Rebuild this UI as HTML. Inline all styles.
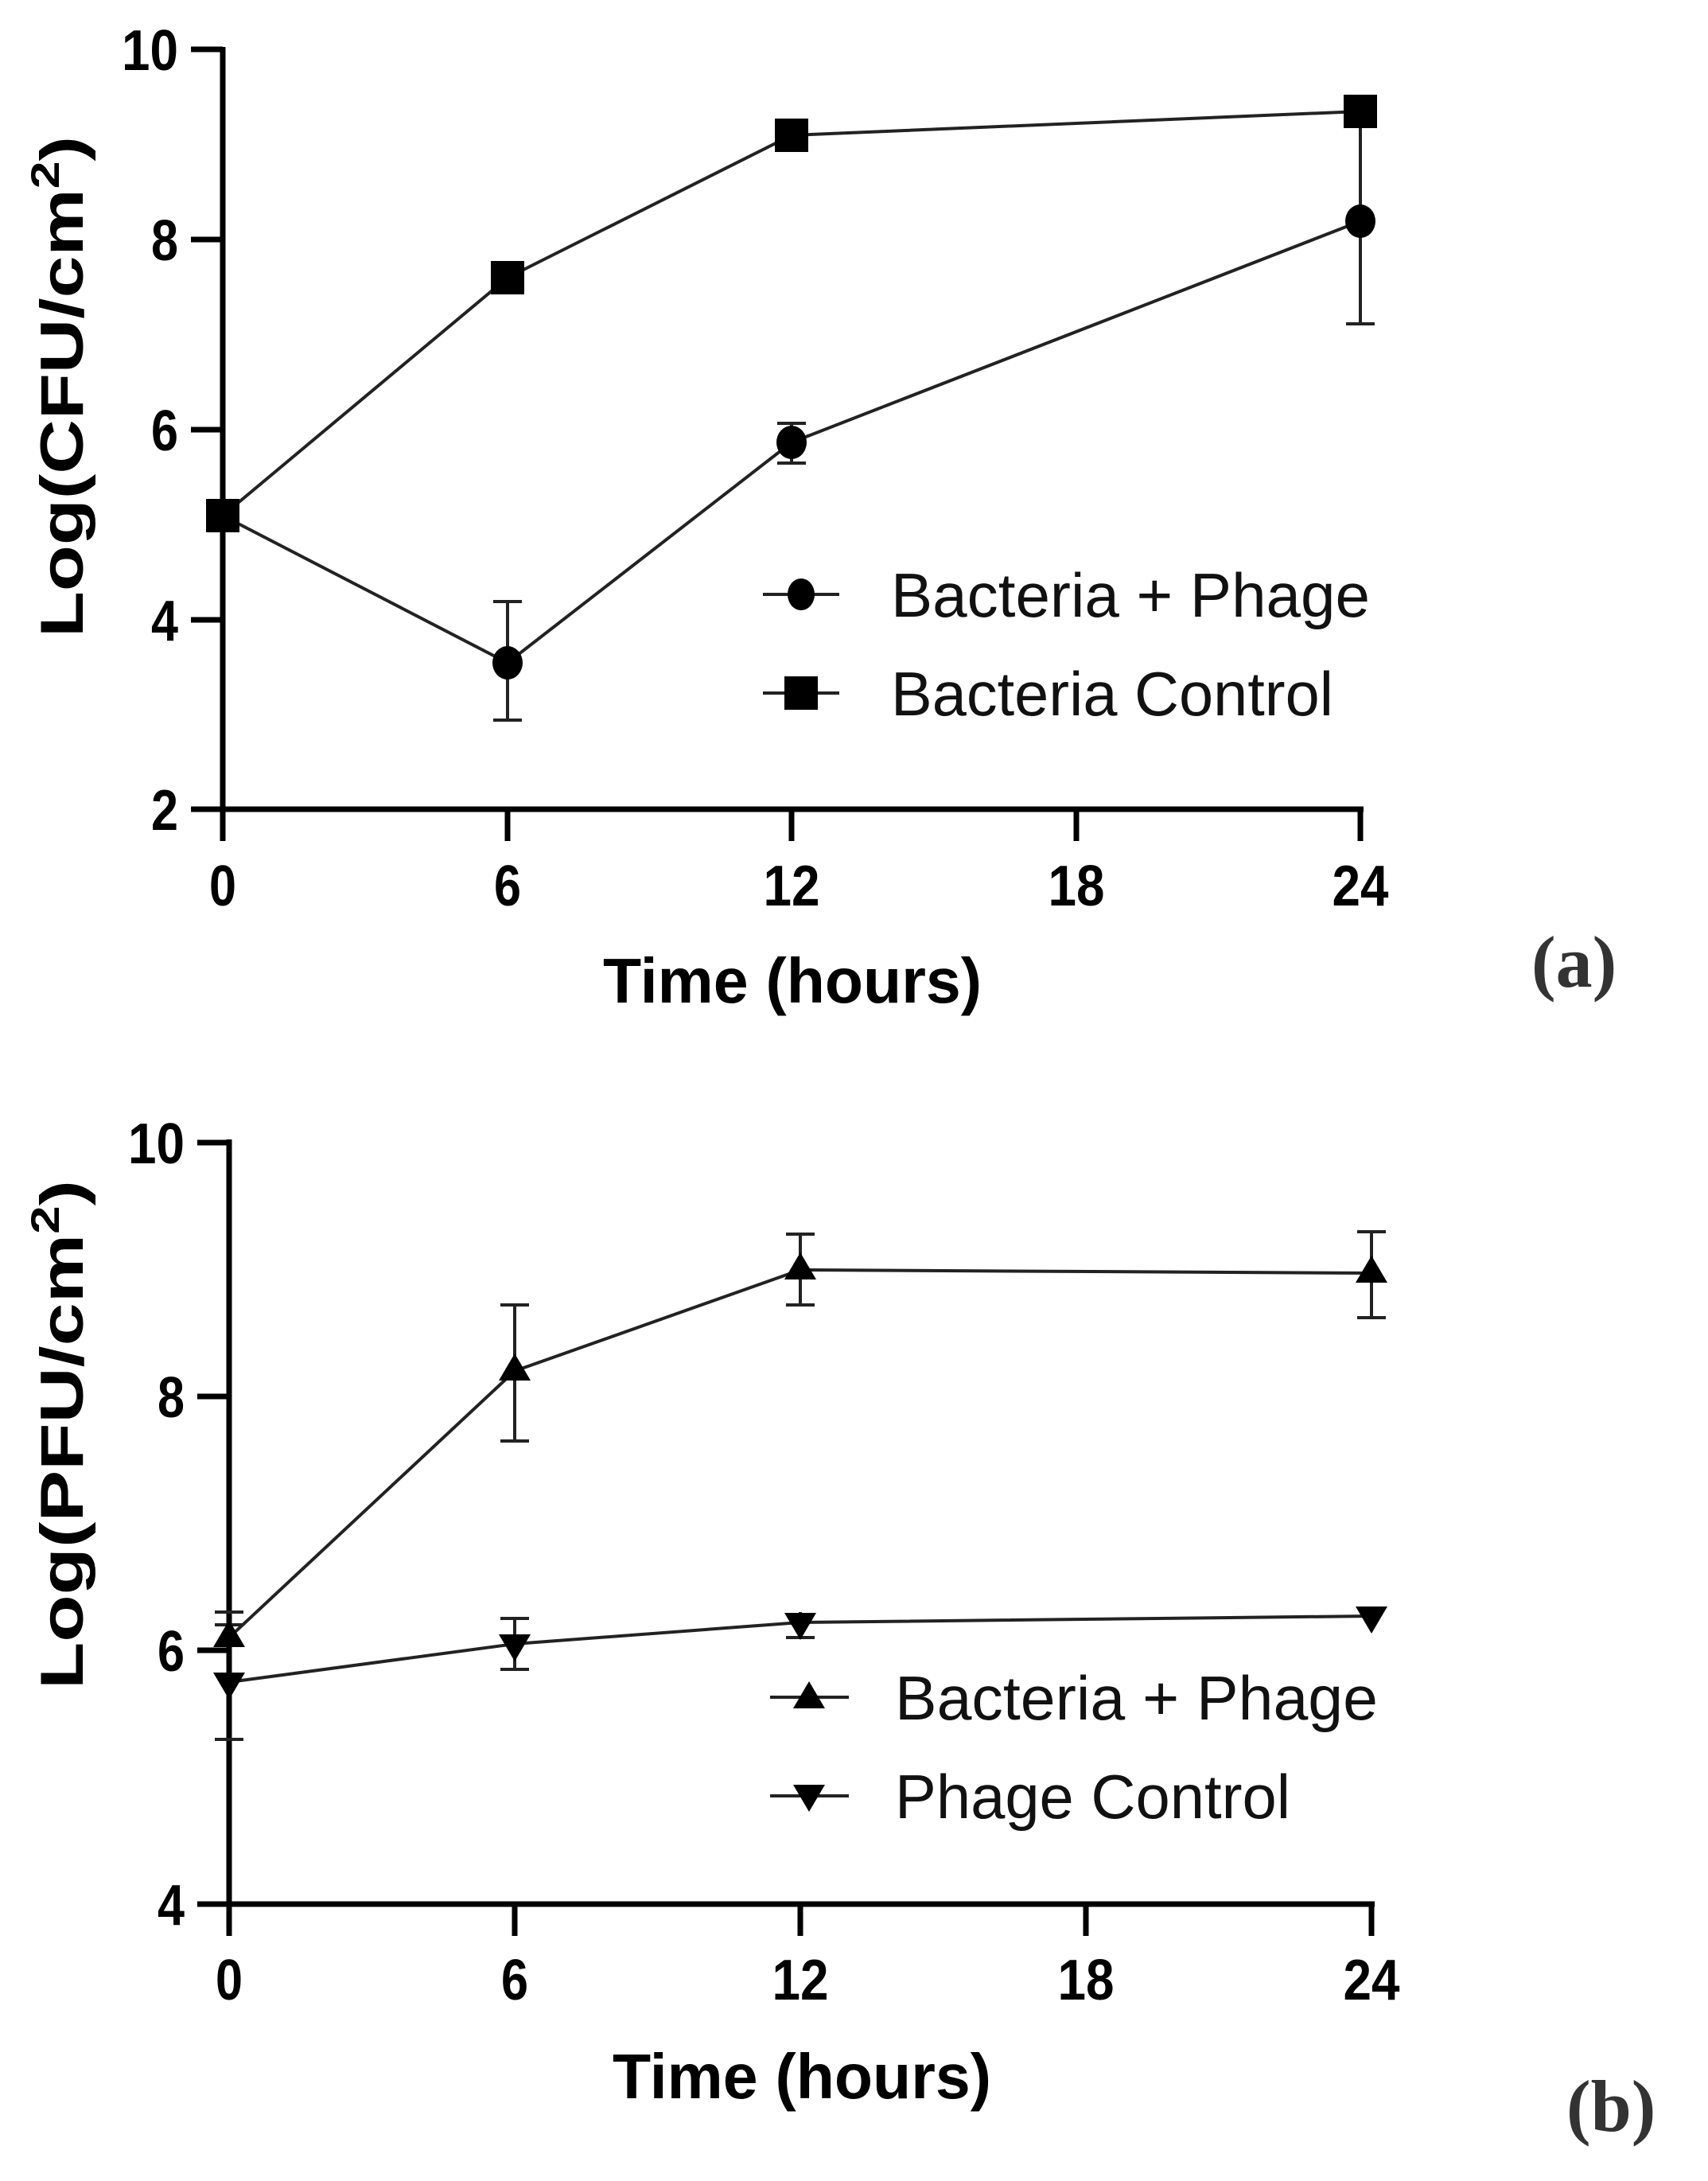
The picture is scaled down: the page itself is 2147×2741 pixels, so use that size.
<!DOCTYPE html>
<html><head><meta charset="utf-8"><style>
html,body{margin:0;padding:0;background:#fff}
svg{display:block}
.n{font-family:"Liberation Sans Narrow","Liberation Sans",sans-serif;font-size:72px;font-weight:bold;fill:#000}
.t{font-family:"Liberation Sans Narrow","Liberation Sans",sans-serif;font-size:80px;font-weight:bold;fill:#000}
.y{font-family:"Liberation Sans",sans-serif;font-size:76px;font-weight:bold;fill:#000}
.l{font-family:"Liberation Sans Narrow","Liberation Sans",sans-serif;font-size:78px;fill:#111}
.p{font-family:"Liberation Serif",serif;font-size:92px;font-weight:bold;fill:#333}
</style></head><body>
<svg width="2147" height="2741" viewBox="0 0 2147 2741" xmlns="http://www.w3.org/2000/svg">
<!-- Panel A -->
<g stroke="#000" stroke-width="7" fill="none">
<line x1="280" y1="59" x2="280" y2="1057"/>
<line x1="240" y1="1017" x2="1714" y2="1017"/>
<line x1="240" y1="62" x2="280" y2="62"/>
<line x1="240" y1="301" x2="280" y2="301"/>
<line x1="240" y1="540" x2="280" y2="540"/>
<line x1="240" y1="779" x2="280" y2="779"/>
<line x1="638" y1="1017" x2="638" y2="1057"/>
<line x1="995" y1="1017" x2="995" y2="1057"/>
<line x1="1353" y1="1017" x2="1353" y2="1057"/>
<line x1="1710" y1="1017" x2="1710" y2="1057"/>
</g>
<g class="n" text-anchor="end">
<text x="224" y="88" textLength="71" lengthAdjust="spacingAndGlyphs">10</text><text x="224" y="327" textLength="34" lengthAdjust="spacingAndGlyphs">8</text><text x="224" y="566" textLength="34" lengthAdjust="spacingAndGlyphs">6</text><text x="224" y="805" textLength="34" lengthAdjust="spacingAndGlyphs">4</text><text x="224" y="1043" textLength="34" lengthAdjust="spacingAndGlyphs">2</text>
</g>
<g class="n" text-anchor="middle">
<text x="280" y="1138" textLength="34" lengthAdjust="spacingAndGlyphs">0</text><text x="638" y="1138" textLength="34" lengthAdjust="spacingAndGlyphs">6</text><text x="995" y="1138" textLength="71" lengthAdjust="spacingAndGlyphs">12</text><text x="1353" y="1138" textLength="71" lengthAdjust="spacingAndGlyphs">18</text><text x="1710" y="1138" textLength="71" lengthAdjust="spacingAndGlyphs">24</text>
</g>
<text class="t" x="758" y="1260" textLength="476" lengthAdjust="spacingAndGlyphs">Time (hours)</text>
<text class="p" x="1925" y="1240">(a)</text>
<text class="y" transform="translate(104,486) rotate(-90)" text-anchor="middle" textLength="630" lengthAdjust="spacingAndGlyphs">Log(CFU/cm<tspan font-size="50" dy="-30">2</tspan><tspan dy="30">)</tspan></text>
<g stroke="#222" stroke-width="4" fill="none">
<polyline points="280,648 638,833 995,556 1710,278"/>
<polyline points="280,648 638,349 995,170 1710,140"/>
<line x1="638" y1="756" x2="638" y2="905"/><line x1="620" y1="756" x2="656" y2="756"/><line x1="620" y1="905" x2="656" y2="905"/>
<line x1="995" y1="532" x2="995" y2="582"/><line x1="977" y1="532" x2="1013" y2="532"/><line x1="977" y1="582" x2="1013" y2="582"/>
<line x1="1710" y1="140" x2="1710" y2="407"/><line x1="1692" y1="407" x2="1728" y2="407"/>
</g>
<g fill="#000">
<ellipse cx="638" cy="833" rx="19" ry="21"/><ellipse cx="995" cy="556" rx="19" ry="21"/><ellipse cx="1710" cy="278" rx="19" ry="21"/>
<rect x="259" y="627" width="42" height="42"/><rect x="617" y="328" width="42" height="42"/><rect x="974" y="149" width="42" height="42"/><rect x="1689" y="119" width="42" height="42"/>
</g>
<g stroke="#222" stroke-width="4"><line x1="959" y1="747" x2="1055" y2="747"/><line x1="959" y1="871" x2="1055" y2="871"/></g>
<ellipse cx="1007" cy="747" rx="17" ry="20" fill="#000"/>
<rect x="986" y="850" width="42" height="42" fill="#000"/>
<text class="l" x="1120" y="775" textLength="602" lengthAdjust="spacingAndGlyphs">Bacteria + Phage</text>
<text class="l" x="1120" y="899" textLength="556" lengthAdjust="spacingAndGlyphs">Bacteria Control</text>

<!-- Panel B -->
<g stroke="#000" stroke-width="7" fill="none">
<line x1="288" y1="1432" x2="288" y2="2433"/>
<line x1="248" y1="2393" x2="1728" y2="2393"/>
<line x1="248" y1="1436" x2="288" y2="1436"/>
<line x1="248" y1="1755" x2="288" y2="1755"/>
<line x1="248" y1="2074" x2="288" y2="2074"/>
<line x1="647" y1="2393" x2="647" y2="2433"/>
<line x1="1006" y1="2393" x2="1006" y2="2433"/>
<line x1="1365" y1="2393" x2="1365" y2="2433"/>
<line x1="1724" y1="2393" x2="1724" y2="2433"/>
</g>
<g class="n" text-anchor="end">
<text x="232" y="1462" textLength="71" lengthAdjust="spacingAndGlyphs">10</text><text x="232" y="1781" textLength="34" lengthAdjust="spacingAndGlyphs">8</text><text x="232" y="2100" textLength="34" lengthAdjust="spacingAndGlyphs">6</text><text x="232" y="2419" textLength="34" lengthAdjust="spacingAndGlyphs">4</text>
</g>
<g class="n" text-anchor="middle">
<text x="288" y="2513" textLength="34" lengthAdjust="spacingAndGlyphs">0</text><text x="647" y="2513" textLength="34" lengthAdjust="spacingAndGlyphs">6</text><text x="1006" y="2513" textLength="71" lengthAdjust="spacingAndGlyphs">12</text><text x="1365" y="2513" textLength="71" lengthAdjust="spacingAndGlyphs">18</text><text x="1724" y="2513" textLength="71" lengthAdjust="spacingAndGlyphs">24</text>
</g>
<text class="t" x="770" y="2637" textLength="476" lengthAdjust="spacingAndGlyphs">Time (hours)</text>
<text class="p" x="1969" y="2678">(b)</text>
<text class="y" transform="translate(104,1803) rotate(-90)" text-anchor="middle" textLength="640" lengthAdjust="spacingAndGlyphs">Log(PFU/cm<tspan font-size="50" dy="-30">2</tspan><tspan dy="30">)</tspan></text>
<g stroke="#222" stroke-width="4" fill="none">
<polyline points="288,2058 647,1723 1006,1596 1724,1600"/>
<polyline points="288,2114 647,2066 1006,2039 1724,2031"/>
<line x1="270" y1="2026" x2="306" y2="2026"/><line x1="270" y1="2042" x2="306" y2="2042"/><line x1="270" y1="2186" x2="306" y2="2186"/>
<line x1="647" y1="1640" x2="647" y2="1811"/><line x1="629" y1="1640" x2="665" y2="1640"/><line x1="629" y1="1811" x2="665" y2="1811"/>
<line x1="1006" y1="1551" x2="1006" y2="1640"/><line x1="988" y1="1551" x2="1024" y2="1551"/><line x1="988" y1="1640" x2="1024" y2="1640"/>
<line x1="1724" y1="1548" x2="1724" y2="1656"/><line x1="1706" y1="1548" x2="1742" y2="1548"/><line x1="1706" y1="1656" x2="1742" y2="1656"/>
<line x1="647" y1="2034" x2="647" y2="2098"/><line x1="629" y1="2034" x2="665" y2="2034"/><line x1="629" y1="2098" x2="665" y2="2098"/>
<line x1="1006" y1="2026" x2="1006" y2="2058"/><line x1="988" y1="2058" x2="1024" y2="2058"/>
</g>
<g fill="#000">
<polygon points="288,2036 308,2070 268,2070"/>
<polygon points="647,1701 667,1735 627,1735"/>
<polygon points="1006,1574 1026,1608 986,1608"/>
<polygon points="1724,1578 1744,1612 1704,1612"/>
<polygon points="268,2102 308,2102 288,2136"/>
<polygon points="627,2054 667,2054 647,2088"/>
<polygon points="986,2027 1026,2027 1006,2061"/>
<polygon points="1704,2019 1744,2019 1724,2053"/>
</g>
<g stroke="#222" stroke-width="4"><line x1="968" y1="2133" x2="1067" y2="2133"/><line x1="968" y1="2257" x2="1067" y2="2257"/></g>
<polygon points="1017,2113 1037,2147 997,2147" fill="#000"/>
<polygon points="997,2243 1037,2243 1017,2277" fill="#000"/>
<text class="l" x="1125" y="2161" textLength="607" lengthAdjust="spacingAndGlyphs">Bacteria + Phage</text>
<text class="l" x="1125" y="2285" textLength="497" lengthAdjust="spacingAndGlyphs">Phage Control</text>
</svg>
</body></html>
